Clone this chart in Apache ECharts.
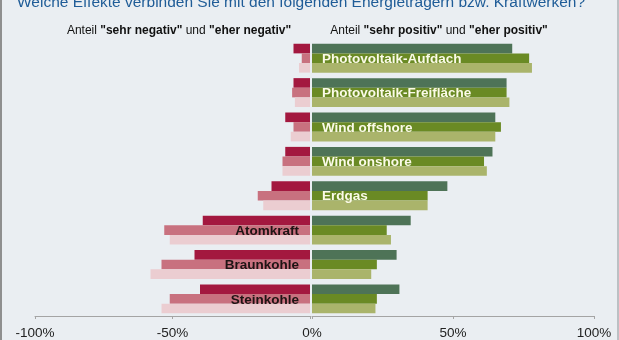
<!DOCTYPE html>
<html>
<head>
<meta charset="utf-8">
<script src="https://cdn.jsdelivr.net/npm/echarts@6/dist/echarts.min.js"></script>
<style>
html,body{margin:0;padding:0;background:#eaeef2;}
#chart{width:619px;height:340px;}
</style>
</head>
<body>
<div id="chart"></div>
<script>
const categories = ['Photovoltaik-Aufdach','Photovoltaik-Freifläche','Wind offshore','Wind onshore','Erdgas','Atomkraft','Braunkohle','Steinkohle'];
// share "sehr positiv" + "eher positiv" (three groups, top to bottom)
const pos1 = [71, 69, 65, 64, 48, 35, 30, 31];
const pos2 = [77, 69, 67, 61, 41, 26.5, 23, 23];
const pos3 = [78, 70, 65, 62, 41, 28, 21, 22.5];
// share "sehr negativ" + "eher negativ" (magnitudes)
const neg1 = [6, 6, 9, 9, 14, 39, 42, 40];
const neg2 = [3, 6.5, 6, 10, 19, 53, 54, 51];
const neg3 = [4, 5.5, 7, 10, 17, 51, 58, 54];
const leftLabelCats = ['Atomkraft','Braunkohle','Steinkohle'];
const rightTicks = [0, 50, 100];
const leftTicks = [-100, -50, 0];

const FONT = "'Liberation Sans', Arial, sans-serif";
const posColors = ['#4e7357', '#6a8a24', '#aab46b'];
const negColors = ['#a3183f', '#c8717f', '#ebcdd1'];

const chart = echarts.init(document.getElementById('chart'), null, {renderer: 'canvas'});

function barBase(name, color, xi, data) {
  return {
    name: name, type: 'bar', xAxisIndex: xi, yAxisIndex: xi,
    data: data, itemStyle: {color: color}, barGap: '0%', barCategoryGap: '16%',
    silent: true, animation: false
  };
}

const series = [
  barBase('positiv 1', posColors[0], 1, pos1),
  Object.assign(barBase('positiv 2', posColors[1], 1, pos2), {
    label: {
      show: true, position: 'insideLeft', distance: 10, offset: [0, 1],
      color: '#fbfae8', fontFamily: FONT, fontWeight: 'bold', fontSize: 13.5,
      formatter: p => leftLabelCats.indexOf(p.name) >= 0 ? '' : p.name
    }
  }),
  barBase('positiv 3', posColors[2], 1, pos3),
  barBase('negativ 1', negColors[0], 0, neg1.map(v => -v)),
  Object.assign(barBase('negativ 2', negColors[1], 0, neg2.map(v => -v)), {
    label: {
      show: true, position: 'insideRight', distance: 11, offset: [0, 1],
      color: '#1e1414', fontFamily: FONT, fontWeight: 'bold', fontSize: 13.5,
      formatter: p => leftLabelCats.indexOf(p.name) >= 0 ? p.name : ''
    }
  }),
  barBase('negativ 3', negColors[2], 0, neg3.map(v => -v))
];

const axisCommon = {
  type: 'value', interval: 50,
  axisLine: {show: true, lineStyle: {color: '#a4a4a4', width: 1}},
  axisTick: {show: true, length: 3, lineStyle: {color: '#a4a4a4'}},
  splitLine: {show: false},
  axisLabel: {color: '#222', fontFamily: FONT, fontSize: 13.5, margin: 10}
};

const option = {
  backgroundColor: '#eaeef2',
  animation: false,
  grid: [
    {left: 35, width: 275, top: 41, height: 275, containLabel: false},
    {left: 312, width: 282, top: 41, height: 275, containLabel: false}
  ],
  xAxis: [
    Object.assign({}, axisCommon, {gridIndex: 0, min: leftTicks[0], max: leftTicks[2],
      axisLabel: Object.assign({}, axisCommon.axisLabel, {formatter: v => v === 0 ? '' : v + '%'})}),
    Object.assign({}, axisCommon, {gridIndex: 1, min: rightTicks[0], max: rightTicks[2],
      axisLabel: Object.assign({}, axisCommon.axisLabel, {formatter: v => v + '%'})})
  ],
  yAxis: [
    {type: 'category', gridIndex: 0, data: categories, inverse: true, show: false},
    {type: 'category', gridIndex: 1, data: categories, inverse: true, show: false}
  ],
  graphic: [
    {type: 'rect', shape: {x: 0, y: 0, width: 2, height: 340}, style: {fill: '#8f8f8f'}, silent: true},
    {type: 'rect', shape: {x: 617, y: 0, width: 2, height: 340}, style: {fill: '#bcc0c4'}, silent: true},
    {type: 'text', x: 17, y: 11, silent: true,
      style: {text: 'Welche Effekte verbinden Sie mit den folgenden Energieträgern bzw. Kraftwerken?',
        font: '15.5px ' + FONT, fill: '#1f5c97', align: 'left', verticalAlign: 'bottom'}},
    {type: 'text', x: 179, y: 31, silent: true,
      style: {text: 'Anteil {b|"sehr negativ"} und {b|"eher negativ"}',
        font: '12px ' + FONT, fill: '#111', align: 'center', verticalAlign: 'middle',
        rich: {b: {fontWeight: 'bold', fontSize: 12, fontFamily: FONT, fill: '#111'}}}},
    {type: 'text', x: 439, y: 31, silent: true,
      style: {text: 'Anteil {b|"sehr positiv"} und {b|"eher positiv"}',
        font: '12px ' + FONT, fill: '#111', align: 'center', verticalAlign: 'middle',
        rich: {b: {fontWeight: 'bold', fontSize: 12, fontFamily: FONT, fill: '#111'}}}}
  ],
  series: series
};
chart.setOption(option);
</script>
</body>
</html>
